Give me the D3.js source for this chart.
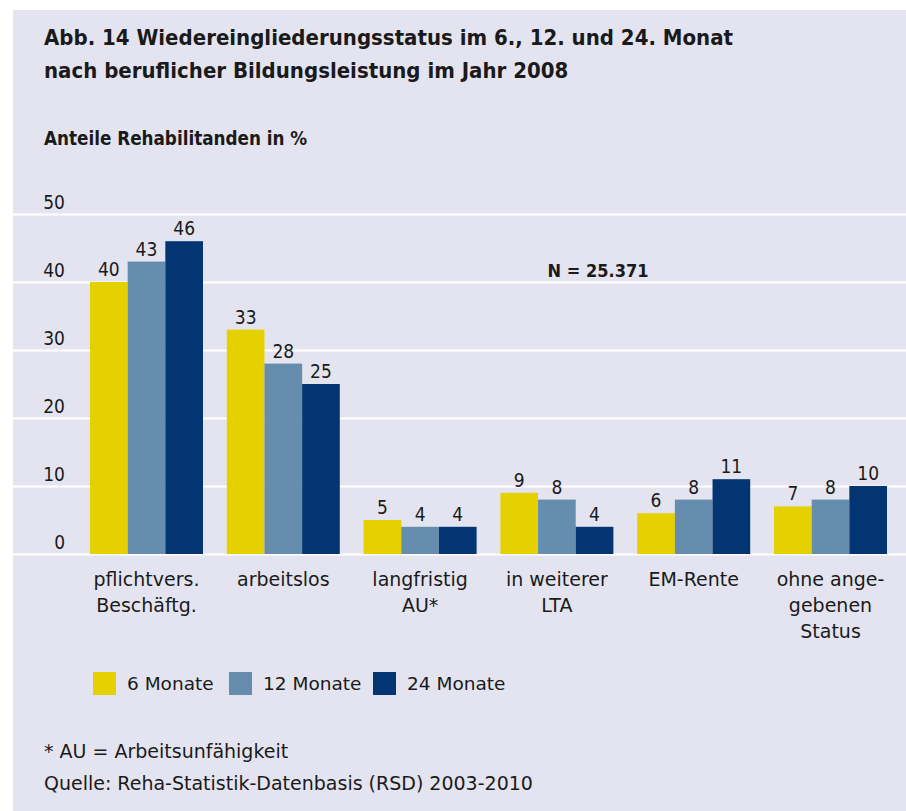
<!DOCTYPE html>
<html>
<head>
<meta charset="utf-8">
<script src="https://cdn.jsdelivr.net/npm/d3@7"></script>
<style>
  html, body { margin: 0; padding: 0; background: #ffffff; }
  svg { display: block; }
  text { font-family: "DejaVu Sans Condensed", "DejaVu Sans", sans-serif; fill: #1a1a1a; }
  .wide { font-family: "DejaVu Sans", sans-serif; }
</style>
</head>
<body>
<svg id="chart" width="906" height="811"></svg>
<script>
const categories = ["pflichtvers.\nBeschäftg.", "arbeitslos", "langfristig\nAU*", "in weiterer\nLTA", "EM-Rente", "ohne ange-\ngebenen\nStatus"];
const seriesNames = ["6 Monate", "12 Monate", "24 Monate"];
const months6 = [40, 33, 5, 9, 6, 7];
const months12 = [43, 28, 4, 8, 8, 8];
const months24 = [46, 25, 4, 4, 11, 10];
const yTicks = [0, 10, 20, 30, 40, 50];
const colors = ["#e5d000", "#678dae", "#033573"];

const seriesValues = [months6, months12, months24];
const data = categories.map((c, i) => ({ cat: c, values: seriesValues.map((s, j) => ({ key: seriesNames[j], value: s[i], idx: j })) }));

const svg = d3.select("#chart");
svg.append("rect").attr("x", 13).attr("y", 10).attr("width", 893).attr("height", 801).attr("fill", "#e4e4f0");

// titles
svg.append("text").attr("x", 44).attr("y", 45).attr("font-size", 22).attr("font-weight", "bold")
  .text("Abb. 14 Wiedereingliederungsstatus im 6., 12. und 24. Monat");
svg.append("text").attr("x", 44).attr("y", 78).attr("font-size", 22).attr("font-weight", "bold")
  .text("nach beruflicher Bildungsleistung im Jahr 2008");
svg.append("text").attr("x", 44).attr("y", 145).attr("font-size", 18.7).attr("font-weight", "bold")
  .text("Anteile Rehabilitanden in %");

const y = d3.scaleLinear().domain([0, 50]).range([554, 214]);
const x0 = d3.scaleBand().domain(categories).range([78.1, 898.9]).paddingInner(0.174).paddingOuter(0.087);
const x1 = d3.scaleBand().domain(seriesNames).range([0, x0.bandwidth()]);

// gridlines
const grid = svg.append("g").attr("transform", "translate(13,0)")
  .call(d3.axisRight(y).tickValues(yTicks).tickSize(893).tickFormat(""));
grid.select(".domain").remove();
grid.selectAll("line").attr("stroke", "#ffffff").attr("stroke-width", 2);

// y labels
const yAx = svg.append("g").attr("transform", "translate(65,0)")
  .call(d3.axisLeft(y).tickValues(yTicks).tickSize(0).tickPadding(0));
yAx.select(".domain").remove();
yAx.selectAll("text").attr("font-size", 19).attr("dy", "-6").attr("fill", "#1a1a1a")
  .style("font-family", "DejaVu Sans Condensed, sans-serif");

// bars
const groups = svg.append("g").selectAll("g").data(data).join("g")
  .attr("transform", d => `translate(${x0(d.cat)},0)`);
groups.selectAll("rect").data(d => d.values).join("rect")
  .attr("x", d => x1(d.key)).attr("width", x1.bandwidth())
  .attr("y", d => y(d.value)).attr("height", d => y(0) - y(d.value))
  .attr("fill", d => colors[d.idx]);
groups.selectAll("text").data(d => d.values).join("text")
  .attr("x", d => x1(d.key) + x1.bandwidth() / 2)
  .attr("y", d => y(d.value) - 6)
  .attr("text-anchor", "middle").attr("font-size", 19)
  .text(d => d.value);

// x axis labels
const xAx = svg.append("g").attr("transform", "translate(0,554)")
  .call(d3.axisBottom(x0).tickSize(0).tickFormat(""));
xAx.select(".domain").remove();
xAx.selectAll(".tick").append("text")
  .attr("class", "wide")
  .attr("text-anchor", "middle").attr("font-size", 19).attr("fill", "#1a1a1a")
  .style("font-family", "DejaVu Sans, sans-serif")
  .each(function(d) {
    const lines = d.split("\n");
    d3.select(this).selectAll("tspan").data(lines).join("tspan")
      .attr("x", 0).attr("y", (l, i) => 32 + i * 26).text(l => l);
  });

// N label
svg.append("text").attr("x", 598).attr("y", 277).attr("text-anchor", "middle")
  .attr("font-size", 18).attr("font-weight", "bold").text("N = 25.371");

// legend
const legendX = [93, 229, 373];
const lg = svg.append("g").selectAll("g").data(seriesNames).join("g")
  .attr("transform", (d, i) => `translate(${legendX[i]},672)`);
lg.append("rect").attr("width", 23).attr("height", 23).attr("fill", (d, i) => colors[i]);
lg.append("text").attr("class", "wide").attr("x", 34).attr("y", 18).attr("font-size", 18.5).text(d => d);

// footnotes
svg.append("text").attr("class", "wide").attr("x", 44).attr("y", 758).attr("font-size", 19).text("* AU = Arbeitsunfähigkeit");
svg.append("text").attr("class", "wide").attr("x", 44).attr("y", 790).attr("font-size", 19).text("Quelle: Reha-Statistik-Datenbasis (RSD) 2003-2010");
</script>
</body>
</html>
